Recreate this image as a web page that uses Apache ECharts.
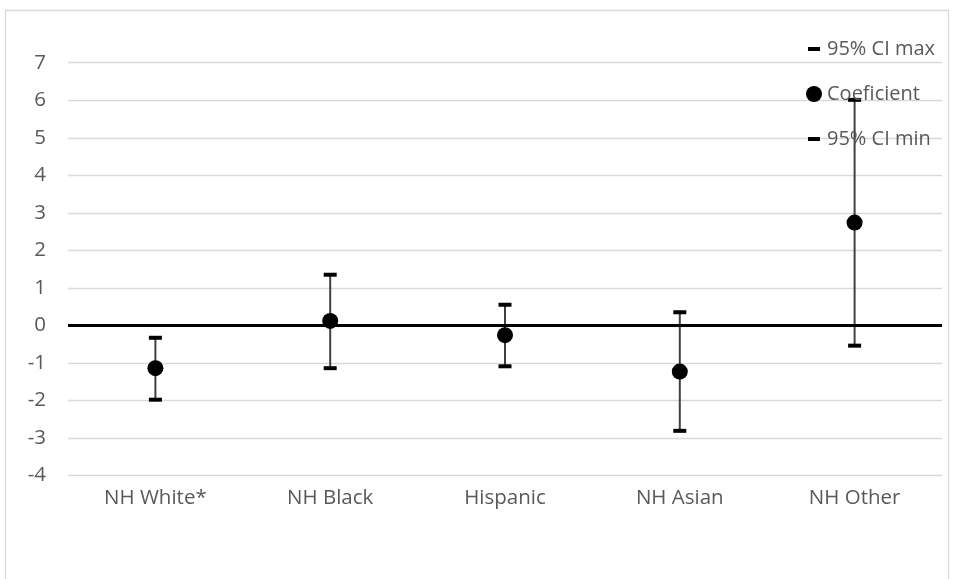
<!DOCTYPE html>
<html>
<head>
<meta charset="utf-8">
<script src="https://cdn.jsdelivr.net/npm/echarts@6/dist/echarts.min.js"></script>
<style>html,body{margin:0;padding:0;background:#fff;}#main{width:955px;height:579px;}</style>
</head>
<body>
<div id="main"></div>
<script>
var categories = ['NH White*', 'NH Black', 'Hispanic', 'NH Asian', 'NH Other'];
var coefficient = [-1.14, 0.12, -0.26, -1.23, 2.74];
var ciMax = [-0.33, 1.35, 0.55, 0.35, 6.01];
var ciMin = [-1.98, -1.14, -1.09, -2.81, -0.54];
var yTicks = [-4, -3, -2, -1, 0, 1, 2, 3, 4, 5, 6, 7];

var FONT = 'Open Sans';
var dashIcon = 'path://M0,0M16,16M2,6h12v4h-12z';

var chart = echarts.init(document.getElementById('main'), null, {renderer: 'canvas'});
var option = {
  animation: false,
  backgroundColor: '#ffffff',
  textStyle: {fontFamily: FONT},
  graphic: [{
    type: 'rect', silent: true, z: -10,
    shape: {x: 5.5, y: 10.5, width: 943, height: 620},
    style: {fill: 'none', stroke: '#d9d9d9', lineWidth: 1.3}
  }],
  grid: {left: 68, right: 13, top: 62.7, bottom: 103.5},
  legend: {
    orient: 'vertical',
    left: 801, top: 34,
    itemWidth: 16, itemHeight: 16, itemGap: 25,
    textStyle: {color: '#595959', fontSize: 20, fontFamily: FONT},
    data: [
      {name: '95% CI max', icon: dashIcon},
      {name: 'Coeficient', icon: 'circle'},
      {name: '95% CI min', icon: dashIcon}
    ]
  },
  xAxis: {
    type: 'category',
    data: categories,
    boundaryGap: true,
    axisLine: {show: false},
    axisTick: {show: false},
    splitLine: {show: false},
    axisLabel: {color: '#595959', fontSize: 20.5, fontFamily: FONT, margin: 12}
  },
  yAxis: {
    type: 'value',
    min: yTicks[0], max: yTicks[yTicks.length - 1], interval: 1,
    axisLine: {show: false},
    axisTick: {show: false},
    axisLabel: {color: '#595959', fontSize: 20.5, fontFamily: FONT, margin: 22},
    splitLine: {lineStyle: {color: '#d9d9d9', width: 1.3}}
  },
  series: [
    {
      name: 'whisker',
      type: 'custom',
      z: 1,
      data: categories.map(function (c, i) { return [i, ciMin[i], ciMax[i]]; }),
      encode: {x: 0, y: [1, 2]},
      renderItem: function (params, api) {
        var p1 = api.coord([api.value(0), api.value(1)]);
        var p2 = api.coord([api.value(0), api.value(2)]);
        return {
          type: 'line',
          shape: {x1: p1[0], y1: p1[1], x2: p2[0], y2: p2[1]},
          style: {stroke: '#404040', lineWidth: 2}
        };
      },
      markLine: {
        silent: true,
        symbol: 'none',
        label: {show: false},
        lineStyle: {color: '#000000', width: 3, type: 'solid'},
        data: [{yAxis: 0}],
        z: 2
      }
    },
    {
      name: '95% CI max',
      type: 'scatter',
      z: 3,
      symbol: 'rect',
      symbolSize: [13, 4],
      itemStyle: {color: '#000000', opacity: 1},
      data: ciMax
    },
    {
      name: 'Coeficient',
      type: 'scatter',
      z: 4,
      symbol: 'circle',
      symbolSize: 16,
      itemStyle: {color: '#000000', opacity: 1},
      data: coefficient
    },
    {
      name: '95% CI min',
      type: 'scatter',
      z: 3,
      symbol: 'rect',
      symbolSize: [13, 4],
      itemStyle: {color: '#000000', opacity: 1},
      data: ciMin
    }
  ]
};
chart.setOption(option);
</script>
</body>
</html>
